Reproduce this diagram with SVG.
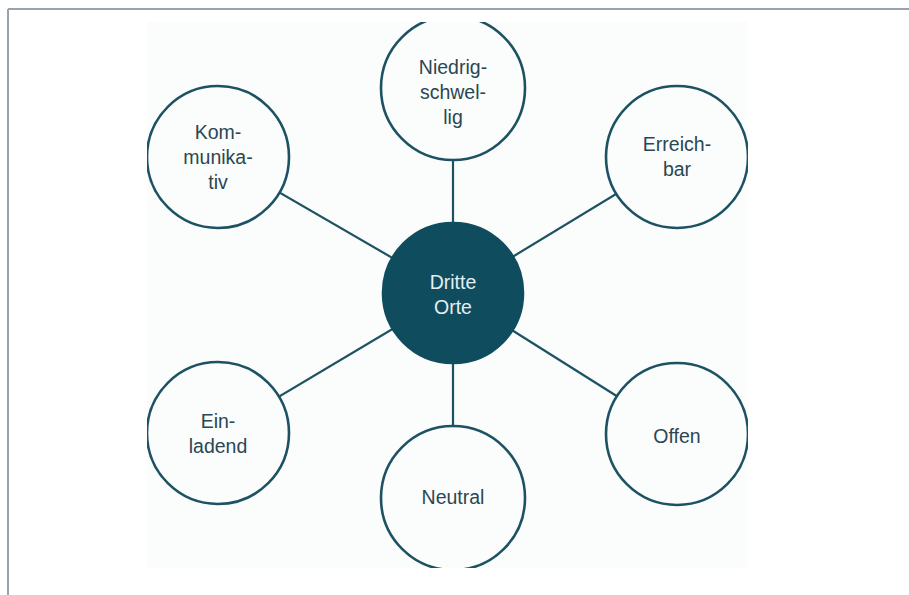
<svg xmlns="http://www.w3.org/2000/svg" width="909" height="595" viewBox="0 0 909 595">
<style>
.frame{stroke:#9aa2ae;stroke-width:2;fill:none}
.conn line{stroke:#1d5263;stroke-width:2.2}
.node circle{fill:#fbfcfc;stroke:#1d5263;stroke-width:2.6}
.node text{font-family:"Liberation Sans",Arial,sans-serif;font-size:19.5px;fill:#2a4752;text-anchor:middle}
#center circle{fill:#0f4c5d;stroke:#0f4c5d}
#center text{fill:#e6eef0}
</style>
<defs>
<clipPath id="img"><rect x="147" y="22" width="601" height="546"/></clipPath>
</defs>
<rect x="0" y="0" width="909" height="595" fill="#ffffff"/>
<line class="frame" x1="8" y1="9" x2="909" y2="9"/>
<line class="frame" x1="8" y1="9" x2="8" y2="595"/>
<rect x="147" y="22" width="601" height="546" fill="#fbfcfc"/>
<g clip-path="url(#img)">
<g class="conn">
<line x1="453" y1="293" x2="453" y2="89"/>
<line x1="453" y1="293" x2="218" y2="157"/>
<line x1="453" y1="293" x2="677" y2="157"/>
<line x1="453" y1="293" x2="218" y2="433"/>
<line x1="453" y1="293" x2="677" y2="434"/>
<line x1="453" y1="293" x2="453" y2="498"/>
</g>
<g id="niedrigschwellig" class="node"><circle cx="453" cy="88" r="72"/>
<text x="453" y="74">Niedrig-</text><text x="453" y="99">schwel-</text><text x="453" y="124">lig</text></g>
<g id="kommunikativ" class="node"><circle cx="218" cy="157" r="71"/>
<text x="218" y="139">Kom-</text><text x="218" y="164">munika-</text><text x="218" y="189">tiv</text></g>
<g id="erreichbar" class="node"><circle cx="677" cy="157" r="71"/>
<text x="677" y="151">Erreich-</text><text x="677" y="176">bar</text></g>
<g id="einladend" class="node"><circle cx="218" cy="433" r="71"/>
<text x="218" y="428">Ein-</text><text x="218" y="453">ladend</text></g>
<g id="offen" class="node"><circle cx="677" cy="434" r="71"/>
<text x="677" y="443">Offen</text></g>
<g id="neutral" class="node"><circle cx="453" cy="498" r="72"/>
<text x="453" y="504">Neutral</text></g>
<g id="center" class="node"><circle cx="453" cy="293" r="70"/>
<text x="453" y="289">Dritte</text><text x="453" y="314">Orte</text></g>
</g>
</svg>
